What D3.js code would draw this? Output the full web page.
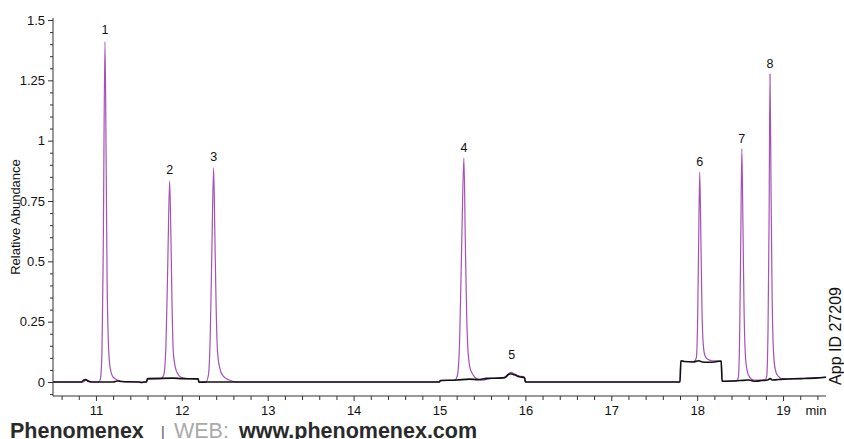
<!DOCTYPE html>
<html>
<head>
<meta charset="utf-8">
<script src="https://cdn.jsdelivr.net/npm/d3@7"></script>
<style>
  html, body { margin: 0; padding: 0; background: #fff; }
  svg { display: block; font-family: "Liberation Sans", Arial, sans-serif; }
</style>
</head>
<body>
<svg id="chart" width="844" height="439"></svg>
<script>
// ---------- data ----------
const xMajorTicks = [11, 12, 13, 14, 15, 16, 17, 18, 19];
const xMinorTicks = [10.6, 10.8, 11.2, 11.4, 11.6, 11.8, 12.2, 12.4, 12.6, 12.8, 13.2, 13.4, 13.6, 13.8,
  14.2, 14.4, 14.6, 14.8, 15.2, 15.4, 15.6, 15.8, 16.2, 16.4, 16.6, 16.8, 17.2, 17.4, 17.6, 17.8,
  18.2, 18.4, 18.6, 18.8, 19.2, 19.4];
const yMajorTicks = [0, 0.25, 0.5, 0.75, 1, 1.25, 1.5];
const yMajorLabels = ["0", "0.25", "0.5", "0.75", "1", "1.25", "1.5"];
const yMinorTicks = [-0.05, 0.05, 0.1, 0.15, 0.2, 0.3, 0.35, 0.4, 0.45, 0.55, 0.6, 0.65, 0.7,
  0.8, 0.85, 0.9, 0.95, 1.05, 1.1, 1.15, 1.2, 1.3, 1.35, 1.4, 1.45];

// peak labels: name, retention time (min), label height (relative abundance)
const peakNames = ["1", "2", "3", "4", "5", "6", "7", "8"];
const peakTimes = [11.105, 11.86, 12.37, 15.284, 15.84, 18.03, 18.52, 18.848];
const peakLabelLevels = [1.44, 0.86, 0.915, 0.955, 0.095, 0.895, 0.99, 1.30];

// purple trace (time, relative abundance)
const purpleTrace = [
  [10.5, 0], [10.85, 0], [10.88, 0.008], [10.92, 0], [11.03, 0],
  [11.05, 0.01], [11.07, 0.12], [11.085, 0.55], [11.105, 1.41], [11.118, 0.95], [11.13, 0.42],
  [11.145, 0.16], [11.165, 0.06], [11.2, 0.02], [11.25, 0.008], [11.35, 0],
  [11.58, 0], [11.6, 0.012], [11.76, 0.014],
  [11.79, 0.03], [11.815, 0.15], [11.837, 0.5], [11.858, 0.833], [11.873, 0.6], [11.887, 0.3],
  [11.9, 0.13], [11.925, 0.06], [11.96, 0.03], [12.0, 0.018], [12.05, 0.014],
  [12.19, 0.012], [12.2, 0], [12.28, 0],
  [12.31, 0.03], [12.33, 0.18], [12.35, 0.55], [12.37, 0.887], [12.385, 0.6], [12.4, 0.3],
  [12.415, 0.13], [12.44, 0.06], [12.48, 0.025], [12.55, 0.008], [12.65, 0],
  [15.0, 0], [15.01, 0.006], [15.18, 0.008],
  [15.21, 0.03], [15.235, 0.18], [15.26, 0.6], [15.284, 0.928], [15.3, 0.6], [15.315, 0.3],
  [15.33, 0.14], [15.355, 0.06], [15.39, 0.03], [15.44, 0.012], [15.5, 0.008],
  [15.6, 0.015], [15.75, 0.018], [15.8, 0.033], [15.835, 0.04], [15.87, 0.034], [15.93, 0.025],
  [15.99, 0.02], [16.0, 0], [17.8, 0], [17.81, 0.085], [17.96, 0.085],
  [17.99, 0.1], [18.005, 0.25], [18.018, 0.6], [18.03, 0.87], [18.043, 0.6], [18.056, 0.3],
  [18.07, 0.16], [18.09, 0.11], [18.12, 0.095], [18.17, 0.088], [18.28, 0.087],
  [18.29, 0.003], [18.46, 0.005],
  [18.48, 0.02], [18.495, 0.2], [18.508, 0.6], [18.52, 0.966], [18.533, 0.65], [18.546, 0.3],
  [18.56, 0.12], [18.58, 0.05], [18.61, 0.02], [18.66, 0.008], [18.79, 0.008],
  [18.81, 0.025], [18.825, 0.22], [18.837, 0.65], [18.848, 1.276], [18.86, 0.8], [18.873, 0.35],
  [18.888, 0.13], [18.91, 0.05], [18.94, 0.025], [19.0, 0.012],
  [19.2, 0.014], [19.5, 0.02]
];

// black trace (time, relative abundance)
const blackTrace = [
  [10.5, 0], [10.83, 0], [10.86, 0.008], [10.88, 0.01], [10.91, 0.004], [10.95, 0],
  [11.2, 0], [11.25, 0.004], [11.3, 0.002], [11.5, 0], [11.53, -0.002], [11.57, 0], [11.59, 0],
  [11.6, 0.014], [11.9, 0.016], [12.0, 0.014], [12.19, 0.013], [12.2, -0.001], [12.3, 0],
  [15.0, 0], [15.01, 0.006], [15.2, 0.008], [15.35, 0.012], [15.45, 0.01], [15.55, 0.015],
  [15.7, 0.016], [15.76, 0.018], [15.8, 0.03], [15.83, 0.034], [15.87, 0.03], [15.93, 0.022],
  [15.99, 0.018], [16.0, 0], [17.8, 0], [17.81, 0.088], [17.85, 0.085], [17.95, 0.083],
  [18.02, 0.088], [18.06, 0.083], [18.12, 0.082], [18.2, 0.083], [18.28, 0.087], [18.29, 0.003],
  [18.4, 0.004], [18.5, 0.006], [18.6, 0.008], [18.68, 0.003], [18.75, 0.006], [18.82, 0.008],
  [18.85, 0.014], [18.88, 0.008], [19.0, 0.012], [19.2, 0.014], [19.4, 0.017], [19.5, 0.02]
];

// ---------- chart ----------
const svg = d3.select("#chart");
const x = d3.scaleLinear().domain([10.5, 19.5]).range([53, 826]);
const y = d3.scaleLinear().domain([-0.058, 1.5]).range([396, 20]);
const axisColor = "#333";
const textColor = "#111";

// traces
const line = d3.line().x(d => x(d[0])).y(d => y(d[1])).curve(d3.curveMonotoneX);
svg.append("path").datum(purpleTrace)
  .attr("d", line).attr("fill", "none").attr("stroke", "#a650b8").attr("stroke-width", 1.2);
svg.append("path").datum(blackTrace)
  .attr("d", line).attr("fill", "none").attr("stroke", "#111").attr("stroke-width", 1.6);

// peak labels
svg.append("g").selectAll("text").data(peakNames).join("text")
  .attr("x", (d, i) => x(peakTimes[i]))
  .attr("y", (d, i) => y(peakLabelLevels[i]))
  .attr("text-anchor", "middle")
  .attr("font-size", 12.5).attr("fill", textColor)
  .text(d => d);

// y axis
const yMinor = svg.append("g").attr("transform", "translate(53,0)")
  .call(d3.axisLeft(y).tickValues(yMinorTicks).tickSize(3).tickFormat(""));
yMinor.select(".domain").remove();
const yAxis = svg.append("g").attr("transform", "translate(53,0)")
  .call(d3.axisLeft(y).tickValues(yMajorTicks).tickSize(5).tickPadding(3)
    .tickFormat((d, i) => yMajorLabels[i]));
yAxis.select(".domain").attr("d", `M0,${y.range()[1] - 2}V${y.range()[0]}`);

// x axis
const xMinor = svg.append("g").attr("transform", "translate(0,396)")
  .call(d3.axisBottom(x).tickValues(xMinorTicks).tickSize(4).tickFormat(""));
xMinor.select(".domain").remove();
const xAxis = svg.append("g").attr("transform", "translate(0,396)")
  .call(d3.axisBottom(x).tickValues(xMajorTicks).tickSize(5).tickPadding(5).tickFormat(d3.format("d")));
xAxis.select(".domain").attr("d", `M${x.range()[0]},0H${x.range()[1]}`);

svg.selectAll(".domain, .tick line").attr("stroke", axisColor).attr("stroke-width", 1);
svg.selectAll(".tick text").attr("font-size", 13).attr("fill", textColor)
  .attr("font-family", '"Liberation Sans", Arial, sans-serif');

// axis titles
svg.append("text").attr("transform", "translate(20,217) rotate(-90)")
  .attr("text-anchor", "middle").attr("font-size", 13).attr("fill", textColor)
  .text("Relative Abundance");
svg.append("text").attr("x", 816).attr("y", 415).attr("text-anchor", "middle")
  .attr("font-size", 13).attr("fill", textColor).text("min");
svg.append("text").attr("transform", "translate(841,336) rotate(-90)")
  .attr("text-anchor", "middle").attr("font-size", 16).attr("fill", "#111")
  .text("App ID 27209");

// footer
const foot = svg.append("text").attr("x", 10).attr("y", 438).attr("font-size", 21.5).attr("fill", "#2a2a2a");
foot.append("tspan").attr("font-weight", "bold").text("Phenomenex");
foot.append("tspan").attr("dx", 17).attr("font-size", 16).attr("fill", "#666").text("|");
foot.append("tspan").attr("dx", 9).attr("fill", "#aaa").text("WEB:");
foot.append("tspan").attr("dx", 10).attr("font-weight", "bold").text("www.phenomenex.com");
</script>
</body>
</html>
